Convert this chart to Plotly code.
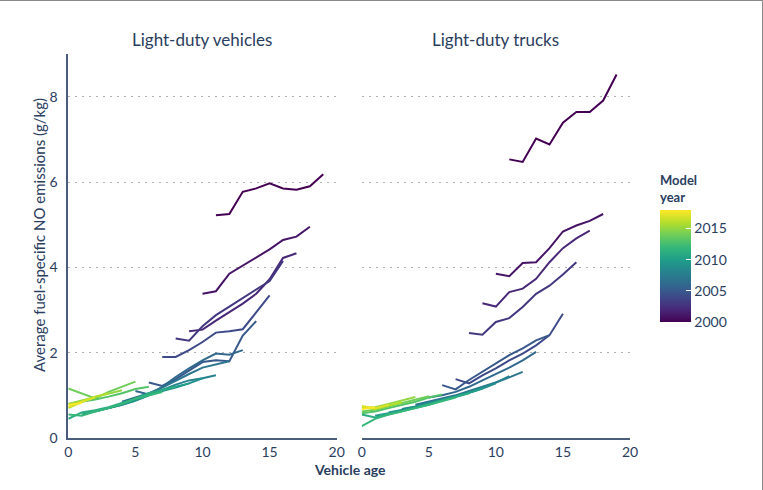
"""
Fuel-specific NO emissions by vehicle age and model year
Two panels: light-duty vehicles / light-duty trucks
"""

import plotly.graph_objects as go
from plotly.colors import sample_colorscale

# Colour scale limits (model year)
YEAR_MIN = 2000
YEAR_MAX = 2018

# Light-duty vehicles: first age of each model-year line and its values
LDV_YEARS = [2000, 2001, 2002, 2003, 2004, 2005, 2006, 2007, 2008,
             2009, 2010, 2011, 2012, 2013, 2014, 2015, 2016, 2017, 2018]
LDV_START = [11, 10, 9, 8, 7, 6, 5, 4, 3, 2, 1, 0, 0, 0, 0, 0, 0, 0, 0]
LDV_VALUES = [
    [5.22, 5.25, 5.77, 5.85, 5.97, 5.85, 5.82, 5.90, 6.18],
    [3.38, 3.44, 3.85, 4.04, 4.25, 4.42, 4.64, 4.72, 4.95],
    [2.50, 2.54, 2.75, 2.95, 3.15, 3.38, 3.72, 4.22, 4.33],
    [2.33, 2.28, 2.62, 2.88, 3.08, 3.28, 3.50, 3.68, 4.15],
    [1.90, 1.90, 2.06, 2.25, 2.47, 2.50, 2.55, 2.95, 3.34],
    [1.30, 1.22, 1.38, 1.58, 1.78, 1.82, 1.80, 2.40, 2.74],
    [1.10, 1.02, 1.20, 1.43, 1.63, 1.82, 1.98, 1.95, 2.06],
    [0.85, 0.95, 1.05, 1.18, 1.35, 1.50, 1.65, 1.72, 1.80],
    [0.70, 0.78, 0.88, 1.00, 1.12, 1.25, 1.35, 1.40, 1.47],
    [0.62, 0.70, 0.78, 0.88, 1.00, 1.10, 1.18, 1.28, 1.40],
    [0.55, 0.62, 0.70, 0.80, 0.90, 1.02, 1.12, 1.20, 1.28],
    [0.45, 0.60, 0.65, 0.72, 0.82, 0.92, 1.05, 1.12, 1.20],
    [0.55, 0.52, 0.62, 0.70, 0.80, 0.92, 1.00, 1.08],
    [0.80, 0.85, 0.90, 0.97, 1.05, 1.15, 1.20],
    [1.16, 1.04, 0.93, 1.08, 1.20, 1.32],
    [0.80, 0.88, 0.97, 1.05, 1.12],
    [0.70, 0.85, 0.97, 1.05],
    [0.72, 0.85, 0.95],
    [0.78, 0.82],
]

# Light-duty trucks
LDT_YEARS = [2000, 2001, 2002, 2003, 2004, 2005, 2006, 2007, 2008,
             2009, 2010, 2011, 2012, 2013, 2014, 2015, 2016, 2017, 2018]
LDT_START = [11, 10, 9, 8, 7, 6, 5, 4, 3, 2, 1, 0, 0, 0, 0, 0, 0, 0, 0]
LDT_VALUES = [
    [6.53, 6.47, 7.02, 6.88, 7.39, 7.64, 7.64, 7.91, 8.52],
    [3.85, 3.79, 4.10, 4.12, 4.45, 4.84, 4.98, 5.09, 5.25],
    [3.16, 3.08, 3.42, 3.50, 3.73, 4.12, 4.45, 4.68, 4.86],
    [2.46, 2.42, 2.72, 2.81, 3.07, 3.38, 3.57, 3.83, 4.12],
    [1.38, 1.28, 1.47, 1.63, 1.82, 1.98, 2.17, 2.41, 2.91],
    [1.24, 1.14, 1.36, 1.55, 1.74, 1.94, 2.10, 2.29, 2.41],
    [0.95, 1.00, 1.08, 1.20, 1.35, 1.50, 1.65, 1.82, 2.02],
    [0.78, 0.85, 0.92, 1.00, 1.10, 1.20, 1.30, 1.42, 1.55],
    [0.68, 0.74, 0.82, 0.90, 0.98, 1.08, 1.18, 1.30, 1.45],
    [0.60, 0.66, 0.72, 0.80, 0.88, 0.97, 1.06, 1.16, 1.28],
    [0.52, 0.58, 0.64, 0.72, 0.80, 0.88, 0.97, 1.06, 1.16],
    [0.55, 0.48, 0.55, 0.62, 0.70, 0.78, 0.88, 0.96, 1.05],
    [0.28, 0.45, 0.55, 0.62, 0.70, 0.78, 0.86, 0.95],
    [0.58, 0.62, 0.70, 0.78, 0.85, 0.95, 1.02],
    [0.62, 0.66, 0.74, 0.82, 0.90, 0.98],
    [0.70, 0.72, 0.80, 0.88, 0.96],
    [0.72, 0.68, 0.76, 0.84],
    [0.75, 0.70, 0.78],
    [0.68, 0.72],
]

TEXT_COLOR = '#2a3d5e'
AXIS_COLOR = '#4b5d7c'
GRID_COLOR = '#b0b0b0'
FONT = 'Lato'
W, H = 763, 490


def year_color(year):
    return sample_colorscale('Viridis', (year - YEAR_MIN) / (YEAR_MAX - YEAR_MIN))[0]


def add_panel(fig, years, starts, values, xaxis, yaxis):
    for year, start, vals in zip(years, starts, values):
        ages = list(range(start, start + len(vals)))
        fig.add_trace(go.Scatter(
            x=ages, y=vals, mode='lines',
            line=dict(color=year_color(year), width=2),
            xaxis=xaxis, yaxis=yaxis,
            name=str(year), showlegend=False,
            hovertemplate=f'MY {year}<br>Age %{{x}}: %{{y:.2f}} g/kg<extra></extra>'
        ))


fig = go.Figure()
add_panel(fig, LDV_YEARS, LDV_START, LDV_VALUES, 'x', 'y')
add_panel(fig, LDT_YEARS, LDT_START, LDT_VALUES, 'x2', 'y2')

# Dummy trace for the model-year colour bar
fig.add_trace(go.Scatter(
    x=[None], y=[None], mode='markers', showlegend=False, hoverinfo='skip',
    marker=dict(
        color=[YEAR_MIN], cmin=YEAR_MIN, cmax=YEAR_MAX, colorscale='Viridis',
        showscale=True,
        colorbar=dict(
            x=660 / W, xanchor='left', xpad=0,
            y=1 - 322 / H, yanchor='bottom', ypad=0,
            len=150, lenmode='pixels', thickness=31,
            outlinewidth=0,
            tickvals=[2000, 2005, 2010, 2015],
            ticks='inside', ticklen=5, tickcolor='white',
            tickfont=dict(size=14, color=TEXT_COLOR, family=FONT),
            title=dict(text='<b>Model<br>year</b>', side='top',
                       font=dict(size=13, color=TEXT_COLOR, family=FONT))
        )
    )
))

y_dom = [1 - 438 / H, 1 - 54 / H]
axis_common = dict(range=[0, 20], tickvals=[0, 5, 10, 15, 20], showgrid=False,
                   showline=True, linecolor=AXIS_COLOR, linewidth=2,
                   ticks='', zeroline=False, automargin=False,
                   tickfont=dict(size=14, color=TEXT_COLOR, family=FONT))
yaxis_common = dict(range=[0, 9], tickvals=[0, 2, 4, 6, 8], showgrid=True,
                    gridcolor=GRID_COLOR, griddash='2px,5px', gridwidth=1.2,
                    zeroline=False, ticks='', domain=y_dom, automargin=False,
                    tickfont=dict(size=14, color=TEXT_COLOR, family=FONT))

fig.update_layout(
    width=W, height=H,
    margin=dict(l=0, r=0, t=0, b=0, autoexpand=False),
    paper_bgcolor='white', plot_bgcolor='white',
    font=dict(family=FONT, color=TEXT_COLOR),
    xaxis=dict(domain=[68.3 / W, 336.7 / W], anchor='y', **axis_common),
    xaxis2=dict(domain=[361.7 / W, 630 / W], anchor='y2', **axis_common),
    yaxis=dict(anchor='x', showline=True, linecolor=AXIS_COLOR, linewidth=2,
               ticklabelstandoff=6, **yaxis_common),
    yaxis2=dict(anchor='x2', showline=False, showticklabels=False, **yaxis_common),
    annotations=[
        dict(text='Light-duty vehicles', x=202 / W, y=1 - 40 / H,
             xanchor='center', yanchor='middle',
             xref='paper', yref='paper', showarrow=False,
             font=dict(size=17, color=TEXT_COLOR, family=FONT)),
        dict(text='Light-duty trucks', x=496 / W, y=1 - 40 / H,
             xanchor='center', yanchor='middle',
             xref='paper', yref='paper', showarrow=False,
             font=dict(size=17, color=TEXT_COLOR, family=FONT)),
        dict(text='<b>Vehicle age</b>', x=350 / W, y=1 - 469 / H,
             xanchor='center', yanchor='middle',
             xref='paper', yref='paper', showarrow=False,
             font=dict(size=14, color=TEXT_COLOR, family=FONT)),
        dict(text='Average fuel-specific NO emissions (g/kg)', textangle=-90,
             x=39 / W, y=1 - 235 / H, xanchor='center', yanchor='middle',
             xref='paper', yref='paper', showarrow=False,
             font=dict(size=15, color=TEXT_COLOR, family=FONT)),
    ],
    shapes=[
        dict(type='line', xref='paper', yref='paper', x0=0, x1=1, y0=1, y1=1,
             line=dict(color='#8a8a8a', width=2)),
        dict(type='line', xref='paper', yref='paper', x0=1, x1=1, y0=0, y1=1,
             line=dict(color='#8a8a8a', width=2)),
    ]
)

# drop the page's default body margin so the figure sits at the window corner
fig.write_html('out.html', config={'displayModeBar': False},
               post_script="document.body.style.margin='0';")
